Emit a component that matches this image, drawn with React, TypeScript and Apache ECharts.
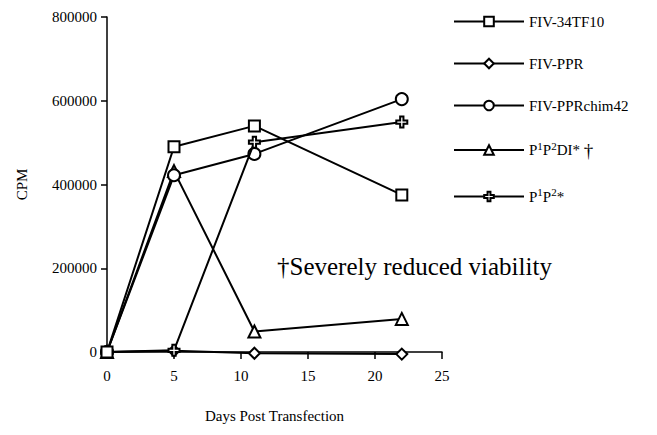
import React, { useEffect, useRef } from "react";
import * as echarts from "echarts";

const days = [0, 5, 11, 22];
const fiv34tf10 = [0, 490000, 540000, 375000];
const fivPPR = [0, 3000, -3000, -5000];
const fivPPRchim42 = [0, 422000, 473000, 604000];
const p1p2DI = [0, 432000, 49000, 79000];
const p1p2 = [0, 4000, 501000, 549000];
const seriesNames = ["FIV-34TF10", "FIV-PPR", "FIV-PPRchim42", "P1P2DI*†", "P1P2*"];
const xTicks = { min: 0, max: 25, interval: 5 };
const yTicks = { min: 0, max: 800000, interval: 200000 };
const annotation = "†Severely reduced viability";

const FONT = "Liberation Serif";
const crossPath = "path://M3.5,0 H6.5 V3.5 H10 V6.5 H6.5 V10 H3.5 V6.5 H0 V3.5 H3.5 Z";

export default function App() {
  const ref = useRef<HTMLDivElement>(null);
  useEffect(() => {
    if (!ref.current) return;
    const chart = echarts.init(ref.current, null, { renderer: "svg" });
    const mk = (name: string, vals: number[], symbol: string, size: number, z: number) => ({
      name,
      type: "line",
      data: days.map((d, i) => [d, vals[i]]),
      symbol,
      symbolSize: size,
      showAllSymbol: true,
      clip: false,
      z,
      lineStyle: { color: "#000", width: 2 },
      itemStyle: { color: "#fff", borderColor: "#000", borderWidth: 2 },
      emphasis: { disabled: true },
    });
    const legendFmt: Record<string, string> = {
      "FIV-34TF10": "{b|FIV-34TF10}",
      "FIV-PPR": "{b|FIV-PPR}",
      "FIV-PPRchim42": "{b|FIV-PPRchim42}",
      "P1P2DI*†": "{b|P}{s|1}{b|P}{s|2}{b|DI* }{d|†}",
      "P1P2*": "{b|P}{s|1}{b|P}{s|2}{b|*}",
    };
    chart.setOption({
      animation: false,
      backgroundColor: "#fff",
      grid: { left: 107, right: 215, top: 17, bottom: 83 },
      xAxis: {
        type: "value",
        min: xTicks.min,
        max: xTicks.max,
        interval: xTicks.interval,
        name: "Days Post Transfection",
        nameLocation: "middle",
        nameGap: 56,
        nameTextStyle: { fontFamily: FONT, fontSize: 15, color: "#000" },
        axisLine: { show: true, onZero: false, lineStyle: { color: "#000", width: 1.5 } },
        axisTick: { show: true, length: 7, lineStyle: { color: "#000", width: 1.5 } },
        axisLabel: { margin: 16, fontFamily: FONT, fontSize: 15, color: "#000", formatter: (v: number) => String(v) },
        splitLine: { show: false },
      },
      yAxis: {
        type: "value",
        min: yTicks.min,
        max: yTicks.max,
        interval: yTicks.interval,
        name: "CPM",
        nameLocation: "middle",
        nameGap: 78,
        nameRotate: 90,
        nameTextStyle: { fontFamily: FONT, fontSize: 15, color: "#000" },
        axisLine: { show: true, lineStyle: { color: "#000", width: 1.5 } },
        axisTick: { show: true, length: 6, lineStyle: { color: "#000", width: 1.5 } },
        axisLabel: { margin: 10, fontFamily: FONT, fontSize: 15, color: "#000", formatter: (v: number) => String(v) },
        splitLine: { show: false },
      },
      legend: {
        orient: "vertical",
        left: 448,
        top: 9,
        itemWidth: 70,
        itemHeight: 12,
        itemGap: 27,
        selectedMode: false,
        data: seriesNames,
        formatter: (n: string) => legendFmt[n] || n,
        textStyle: {
          fontFamily: FONT,
          color: "#000",
          rich: {
            b: { fontFamily: FONT, fontSize: 15, lineHeight: 20, color: "#000" },
            s: { fontFamily: FONT, fontSize: 11, lineHeight: 10, verticalAlign: "top", color: "#000" },
            d: { fontFamily: FONT, fontSize: 19, lineHeight: 20, color: "#000" },
          },
        },
      },
      graphic: [
        {
          type: "text",
          left: 277,
          top: 254,
          style: { text: annotation, font: `25px '${FONT}'`, fill: "#000" },
        },
      ],
      series: [
        mk(seriesNames[0], fiv34tf10, "rect", 11, 6),
        mk(seriesNames[1], fivPPR, "diamond", 11, 3),
        mk(seriesNames[2], fivPPRchim42, "circle", 12, 4),
        mk(seriesNames[3], p1p2DI, "triangle", 12, 2),
        mk(seriesNames[4], p1p2, crossPath, 11, 5),
      ],
    });
    return () => chart.dispose();
  }, []);
  return <div ref={ref} style={{ position: "fixed", left: 0, top: 0, width: 657, height: 435 }} />;
}
